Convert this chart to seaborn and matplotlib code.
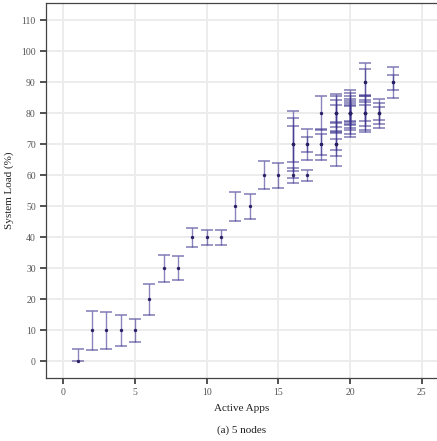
import numpy as np
import pandas as pd
import matplotlib
matplotlib.use("Agg")
import matplotlib.pyplot as plt
import seaborn as sns

# Measured system load per run: number of active apps, mean load (%), and spread (%)
apps = [1, 2, 3, 4, 5, 6, 7, 8, 9, 10, 11, 12, 13, 14, 15,
        16, 16, 16, 16,
        17, 17, 17,
        18, 18, 18,
        19, 19, 19, 19, 19, 19, 19,
        20, 20, 20, 20, 20, 20, 20, 20,
        21, 21, 21, 21, 21, 21,
        22, 22, 22,
        23, 23]
load = [0, 10, 10, 10, 10, 20, 30, 30, 40, 40, 40, 50, 50, 60, 60,
        70, 70, 70, 60,
        70, 70, 60,
        80, 70, 70,
        80, 80, 80, 80, 70, 70, 70,
        80, 80, 80, 80, 80, 80, 80, 80,
        90, 90, 80, 80, 80, 80,
        80, 80, 80,
        90, 90]
spread = [4.0, 6.3, 5.9, 5.1, 3.7, 5.0, 4.4, 3.9, 3.0, 2.5, 2.5, 4.8, 4.0, 4.5, 4.0,
          10.7, 8.6, 5.8, 2.3,
          5.0, 2.4, 1.8,
          5.5, 5.0, 3.3,
          6.3, 5.6, 4.4, 2.8, 7.0, 3.9, 1.7,
          7.6, 6.6, 5.5, 4.7, 3.9, 3.4, 2.8, 2.3,
          6.3, 4.3, 6.0, 5.5, 4.2, 2.6,
          4.6, 3.5, 2.0,
          5.1, 2.5]

x_ticks = [0, 5, 10, 15, 20, 25]
y_ticks = [0, 10, 20, 30, 40, 50, 60, 70, 80, 90, 100, 110]

df = pd.DataFrame({"apps": apps, "load": load, "spread": spread})
# load cannot go below zero, so the lower whisker is clipped there
df["lower"] = np.minimum(df["spread"], df["load"])

sns.set_theme(style="whitegrid")
plt.rcParams["font.family"] = ["Liberation Serif", "DejaVu Serif"]

fig = plt.figure(figsize=(4.37, 4.41), dpi=100)
ax = fig.add_axes([46 / 437, 63 / 441, 1 - 46 / 437, 375 / 441])
ax.set_facecolor("white")

bar_color = "#3d3490"
point_color = "#2b2266"

ax.errorbar(df["apps"], df["load"], yerr=[df["lower"], df["spread"]],
            fmt="none", ecolor=bar_color, elinewidth=1.0, capsize=4.6,
            capthick=1.2, alpha=0.6, zorder=3)
sns.scatterplot(data=df, x="apps", y="load", ax=ax, color=point_color,
                s=6, marker="o", linewidth=0,
                zorder=4, legend=False)

ax.set_xlim(-1.2, 26.05)
ax.set_ylim(-5.35, 115.6)
ax.set_xticks(x_ticks)
ax.set_yticks(y_ticks)

ax.grid(True, color="#ebebeb", linewidth=1.3)
ax.set_axisbelow(True)

for side in ["left", "bottom", "top"]:
    ax.spines[side].set_visible(True)
    ax.spines[side].set_color("#444444")
    ax.spines[side].set_linewidth(0.9)
ax.spines["right"].set_visible(False)

ax.tick_params(axis="both", which="major", direction="out", length=4.3,
               width=1.2, color="#333333", labelsize=7, labelcolor="#555555",
               pad=3, left=True, bottom=True)

ax.set_xlabel("Active Apps", fontsize=8, color="#222222", labelpad=5)
ax.set_ylabel("System Load (%)", fontsize=8, color="#222222", labelpad=5)

fig.text(0.5 + 23 / 437, 11 / 441, "(a) 5 nodes", ha="center", va="center",
         fontsize=8, color="#222222")

fig.savefig("out.png", dpi=100)
